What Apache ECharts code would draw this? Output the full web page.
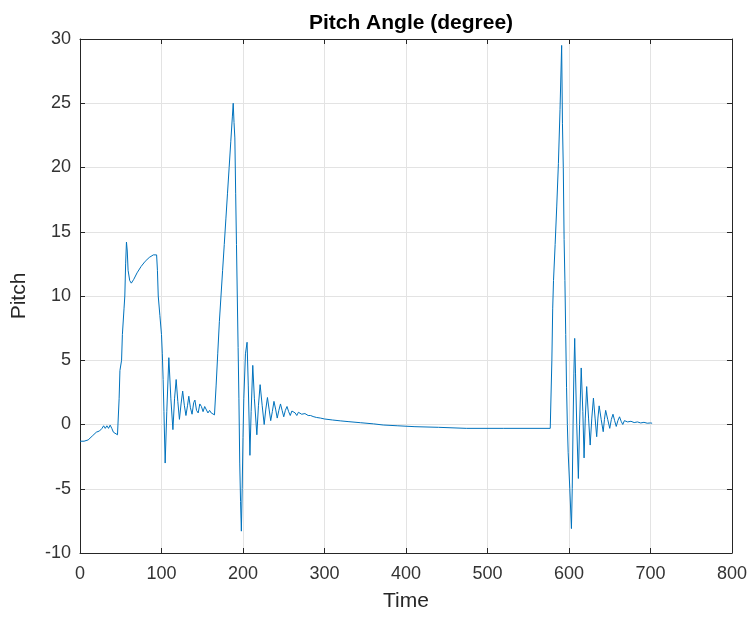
<!DOCTYPE html>
<html>
<head>
<meta charset="utf-8">
<script src="https://cdn.jsdelivr.net/npm/echarts@6/dist/echarts.min.js"></script>
<style>
html,body{margin:0;padding:0;background:#fff;}
#chart{width:750px;height:617px;}
</style>
</head>
<body>
<div id="chart"></div>
<script>
// [time, pitch]
var launchPart = [
	[0,-1.3],[5,-1.3],[10,-1.2],[15,-0.9],[20,-0.6],[24,-0.5],[27,-0.3],[29,-0.1],[31,-0.3],[33,-0.1],
	[35,-0.3],[37,-0.05],[39,-0.3],[41,-0.6],[43,-0.7],[46,-0.8],[47,-0.7],
	[48,2],[49,4.2],[51,5],[52,7],[54,9],[55,10],[56,12.5],[57,14.2],[58,13.5],[59,12],[61,11.2],
	[63,11],[66,11.3],[70,11.8],[75,12.3],[80,12.7],[85,13],[90,13.2],[94,13.2],[95,12],[96,10],
	[98,8.5],[100,7],[101,5.5],[102,3.5],[103,1.0],[104.5,-3.0],[106.5,1.0],[109,5.2],[111.5,2],
	[114,-0.4],[116,2],[118,3.5],[120,1.8],[122,0.4],[124,1.6],[126,2.6],[128,1.5],[130,0.7],
	[132,1.5],[133.5,2.2],[135.5,1.3],[137.5,0.8],[139.5,1.7],[141,1.9],[143,1.1],[145,0.9],
	[147,1.6],[149,1.4],[151,1.0],[153,1.4],[155,1.3],[157,0.9],[159,1.1],[161,0.9],[163,0.8],[165,0.75]
];
var secondPart = [
	[166,0.8],[167,3],[169,5.5],[171,8],[173,10],[175,12],[177,14],[179,16],[181,18],[183,20],
	[185,22],[187,24],[188,25],[189,23.5],[190,22.3],[191,18],[192,14],[193,10],[194,6],[195,2],
	[196,-3],[197,-6],[198,-8.3],[199,-5],[200,-1],[201,2],[203,5.5],[205,6.4],[206.5,3],[208.5,-2.4],
	[210,1],[212,4.6],[214,2],[217,-0.8],[219,1.5],[221,3.1],[223.5,1.5],[226,0],[228,1.2],[230,2.1],
	[232,1.2],[234,0.3],[236,1.0],[238,1.8],[240,1.2],[242,0.5],[244,1.1],[246,1.6],[248,1.1],
	[250,0.6],[252,1.1],[254,1.4],[256,1.0],[258,0.7],[260,1.05],[262,1.2],[264,0.9],[266,0.7],
	[268,0.95],[270,1.0],[272,0.8],[274,0.7],[276,0.85],[278,0.85],[280,0.7],[283,0.7],[286,0.62],
	[290,0.55],[295,0.5],[300,0.43],[310,0.35],[320,0.28],[330,0.22],[344,0.14],[360,0.05],
	[372,-0.04],[390,-0.1],[411,-0.17],[440,-0.22],[474,-0.3],[520,-0.3],[577,-0.3]
];
var thirdPart = [
	[578,-0.2],[579,5],[580,9],[581,11.2],[583,14],[585,17],[587,20.3],[589,24.5],[591,29.5],
	[592,23.4],[593,20],[594,14.4],[595,11.2],[596,7],[597,2.9],[598,0],[599,-2.2],[601,-5],
	[603,-8.1],[604,-5],[605,0],[606,4],[607,6.7],[608,4],[609.5,0],[611.5,-4.2],[613,0],[615,4.4],
	[617,1],[618.5,-2.6],[620,0.5],[621.7,2.95],[624,0.5],[626,-1.6],[628,0.5],[630,2.05],[632,0.5],
	[634,-0.95],[635.5,0.5],[637,1.45],[639.5,0.4],[642,-0.56],[643.5,0.4],[645,1.1],[647.5,0.4],
	[650,-0.3],[652,0.4],[654,0.8],[656,0.3],[658,-0.15],[660,0.3],[662,0.6],[664,0.25],[666,0.0],
	[668,0.3],[670,0.45],[672,0.2],[674,0.05],[676,0.25],[678,0.35],[680,0.15],[682,0.05],[684,0.2],
	[686,0.25],[688,0.12],[690,0.07],[692,0.17],[694,0.18],[696,0.1],[698,0.08],[700,0.12],[702,0.1]
];
var pitchData = launchPart.concat(secondPart, thirdPart);

var fnt = 'Liberation Sans, Arial, sans-serif';
var gridLine = {show:true, lineStyle:{color:'#e3e3e3', width:1}};
var boxLine = {show:true, onZero:false, lineStyle:{color:'#262626', width:1}};
var tickIn = {show:true, inside:true, length:5, lineStyle:{color:'#262626'}};

option = {
	animation : false,
	backgroundColor : '#fff',
	title : {
		text : 'Pitch Angle (degree)',
		left : 406,
		top : 8,
		textAlign : 'center',
		textStyle : {fontFamily:fnt, fontSize:21, fontWeight:'bold', color:'#000'}
	},
	grid : {left:80, top:39, right:18, bottom:64},
	xAxis : [ {
		type : 'value',
		min : 0, max : 800, interval : 100,
		name : 'Time',
		nameLocation : 'middle',
		nameGap : 38,
		nameTextStyle : {fontFamily:fnt, fontSize:21, color:'#262626'},
		axisLine : boxLine,
		axisTick : tickIn,
		splitLine : gridLine,
		axisLabel : {fontFamily:fnt, fontSize:18, color:'#333', margin:12}
	}, {
		type : 'value', position : 'top',
		min : 0, max : 800, interval : 100,
		axisLine : boxLine, axisTick : tickIn,
		axisLabel : {show:false}, splitLine : {show:false}
	} ],
	yAxis : [ {
		type : 'value',
		min : -10, max : 30, interval : 5,
		name : 'Pitch',
		nameLocation : 'middle',
		nameGap : 50,
		nameTextStyle : {fontFamily:fnt, fontSize:21, color:'#262626'},
		axisLine : boxLine,
		axisTick : tickIn,
		splitLine : gridLine,
		axisLabel : {fontFamily:fnt, fontSize:18, color:'#333', margin:9}
	}, {
		type : 'value', position : 'right',
		min : -10, max : 30, interval : 5,
		axisLine : boxLine, axisTick : tickIn,
		axisLabel : {show:false}, splitLine : {show:false}
	} ],
	series : [ {
		name : 'Pitch',
		type : 'line',
		showSymbol : false,
		lineStyle : {color:'#0072BD', width:1},
		data : pitchData
	} ]
};
var myChart = echarts.init(document.getElementById('chart'));
myChart.setOption(option);
</script>
</body>
</html>
